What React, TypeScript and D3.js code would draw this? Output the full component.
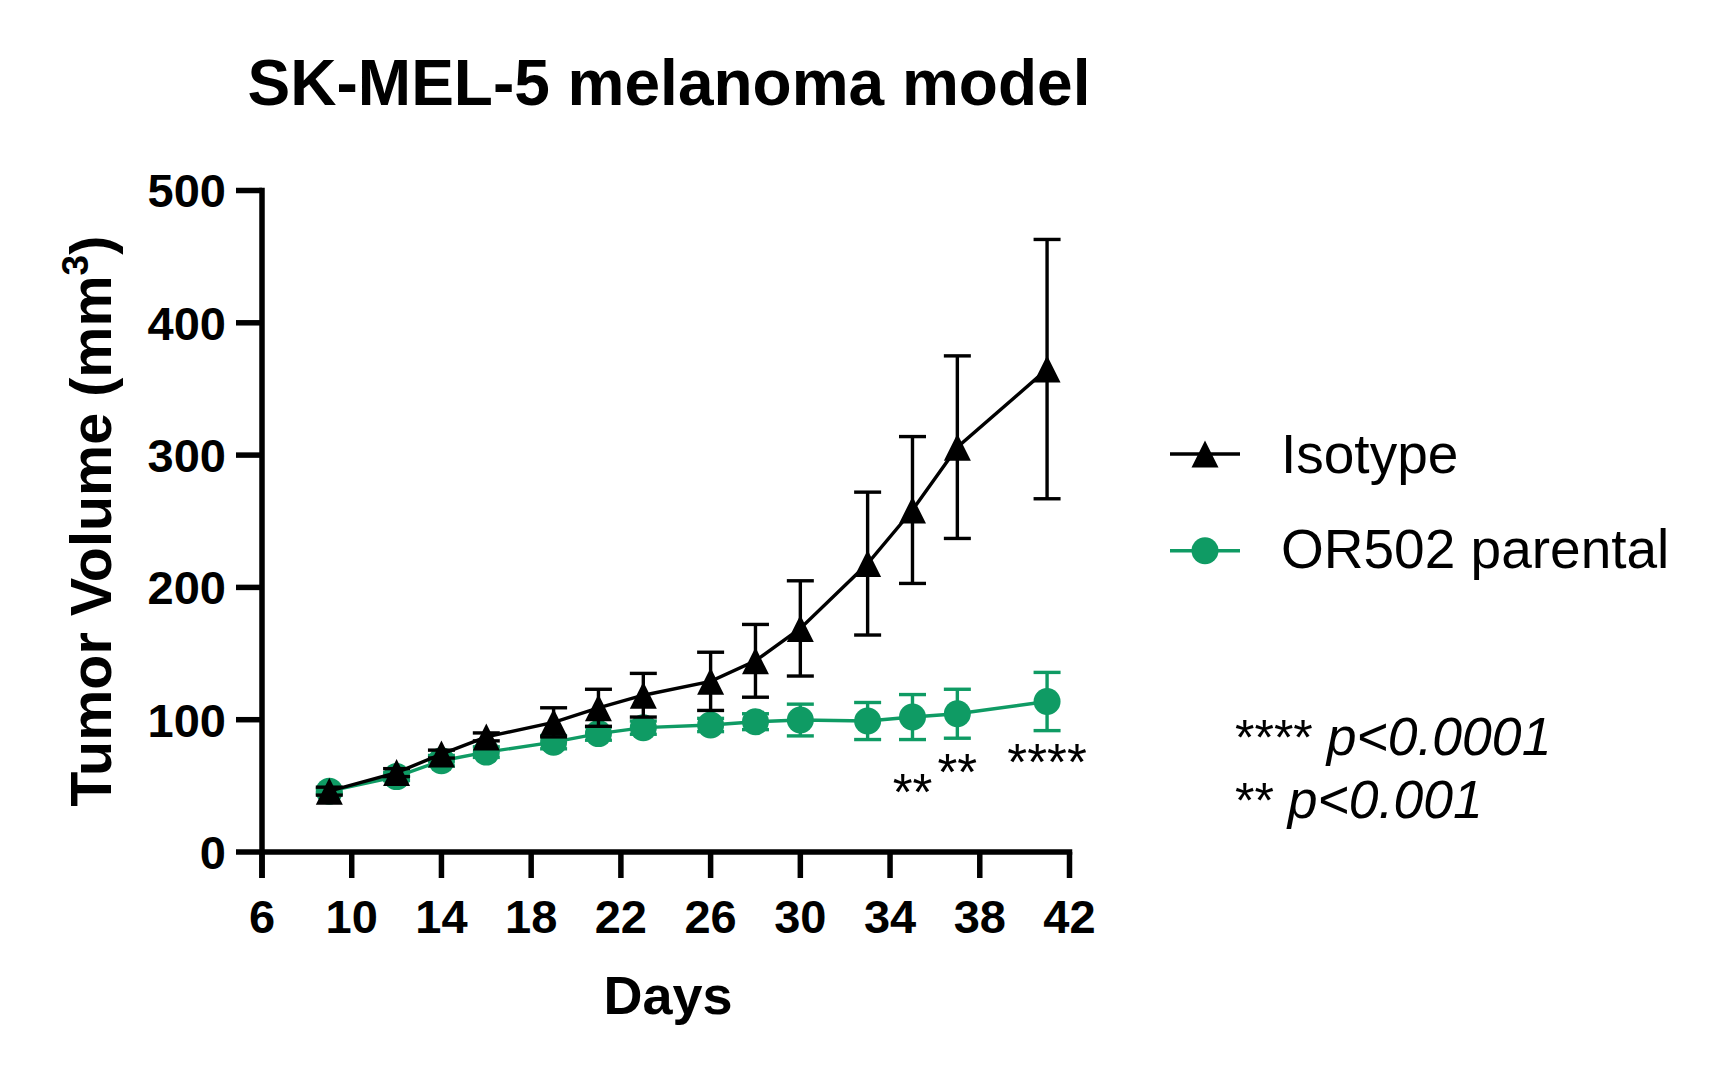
import * as d3 from 'd3';

// Days of measurement
const DAYS = [9, 12, 14, 16, 19, 21, 23, 26, 28, 30, 33, 35, 37, 41];

// Isotype group (mean, SEM)
const ISO_MEAN = [46, 60, 74, 87, 98, 109, 118.5, 129, 144.5, 169, 218, 258.5, 306, 365];
const ISO_SEM = [3, 3, 3, 3, 11, 14, 16.5, 22, 27.5, 36, 54, 55.5, 69, 98];

// OR502 parental group (mean, SEM)
const OR_MEAN = [46, 57, 69, 75.5, 83, 89.5, 94, 96, 98.5, 99.75, 99, 102, 104.5, 113.75];
const OR_SEM = [2, 3, 4, 4, 5, 5, 5, 5, 6, 12, 14, 17, 18.5, 22];

const X_TICKS = [6, 10, 14, 18, 22, 26, 30, 34, 38, 42];
const Y_TICKS = [0, 100, 200, 300, 400, 500];

// significance marks under points
const SIG_DAYS = [35, 37, 41];
const SIG_LABELS = ['**', '**', '****'];
const SIG_ROW = [0, 1, 2]; // vertical placement rows

const W = 1717;
const H = 1077;
const FONT = "'Liberation Sans', Arial, Helvetica, sans-serif";
const GREEN = '#0f9b64';
const BLACK = '#000000';

const xScale = d3.scaleLinear().domain([6, 42]).range([262, 1069.5]);
const yScale = d3.scaleLinear().domain([0, 500]).range([852, 190.5]);

const TICK = 26;
const AXIS_W = 5.5;
const LINE_W = 3.4;
const MS = 13.5; // marker half-size
const SIG_Y = [810, 790, 780];

const triPath = `M0,${-MS}L${MS},${MS}L${-MS},${MS}Z`;

type Pt = { day: number; mean: number; sem: number };
const isoData: Pt[] = DAYS.map((d, i) => ({ day: d, mean: ISO_MEAN[i], sem: ISO_SEM[i] }));
const orData: Pt[] = DAYS.map((d, i) => ({ day: d, mean: OR_MEAN[i], sem: OR_SEM[i] }));

const line = d3
  .line<Pt>()
  .x((d) => xScale(d.day))
  .y((d) => yScale(d.mean));

function ErrorBars({ data, color }: { data: Pt[]; color: string }) {
  return (
    <g stroke={color} strokeWidth={LINE_W} fill="none">
      {data.map((d) => {
        const x = xScale(d.day);
        const y1 = yScale(d.mean + d.sem);
        const y2 = yScale(d.mean - d.sem);
        return (
          <g key={d.day}>
            <line x1={x} x2={x} y1={y1} y2={y2} />
            <line x1={x - MS} x2={x + MS} y1={y1} y2={y1} />
            <line x1={x - MS} x2={x + MS} y1={y2} y2={y2} />
          </g>
        );
      })}
    </g>
  );
}

export default function App() {
  const y0 = yScale(0);
  const x0 = xScale(6);

  return (
    <svg
      width={W}
      height={H}
      viewBox={`0 0 ${W} ${H}`}
      style={{ position: 'absolute', left: 0, top: 0, background: '#fff' }}
      fontFamily={FONT}
    >
      <rect x={0} y={0} width={W} height={H} fill="#fff" />

      {/* Title */}
      <text x={669} y={105} textAnchor="middle" fontSize={64} fontWeight={700}>
        SK-MEL-5 melanoma model
      </text>

      {/* Y axis */}
      <line x1={x0} x2={x0} y1={yScale(500) - AXIS_W / 2} y2={y0 + TICK} stroke={BLACK} strokeWidth={AXIS_W} />
      {Y_TICKS.map((t) => (
        <g key={t}>
          <line x1={x0 - TICK} x2={x0} y1={yScale(t)} y2={yScale(t)} stroke={BLACK} strokeWidth={AXIS_W} />
          <text
            x={x0 - TICK - 10}
            y={yScale(t)}
            dy="0.36em"
            textAnchor="end"
            fontSize={47}
            fontWeight={700}
          >
            {t}
          </text>
        </g>
      ))}

      {/* X axis */}
      <line x1={x0} x2={xScale(42) + AXIS_W / 2} y1={y0} y2={y0} stroke={BLACK} strokeWidth={AXIS_W} />
      {X_TICKS.map((t) => (
        <g key={t}>
          <line x1={xScale(t)} x2={xScale(t)} y1={y0} y2={y0 + TICK} stroke={BLACK} strokeWidth={AXIS_W} />
          <text x={xScale(t)} y={933} textAnchor="middle" fontSize={47} fontWeight={700}>
            {t}
          </text>
        </g>
      ))}

      {/* Axis titles */}
      <text x={668} y={1014} textAnchor="middle" fontSize={54} fontWeight={700}>
        Days
      </text>
      <text
        transform={`translate(111,${(yScale(0) + yScale(500)) / 2}) rotate(-90)`}
        textAnchor="middle"
        fontSize={57.5}
        fontWeight={700}
      >
        Tumor Volume (mm
        <tspan fontSize={37} dy={-23}>3</tspan>
        <tspan dy={23}>)</tspan>
      </text>

      {/* OR502 parental */}
      <ErrorBars data={orData} color={GREEN} />
      <path d={line(orData) ?? ''} fill="none" stroke={GREEN} strokeWidth={LINE_W} />
      {orData.map((d) => (
        <circle key={d.day} cx={xScale(d.day)} cy={yScale(d.mean)} r={MS} fill={GREEN} />
      ))}

      {/* Isotype */}
      <ErrorBars data={isoData} color={BLACK} />
      <path d={line(isoData) ?? ''} fill="none" stroke={BLACK} strokeWidth={LINE_W} />
      {isoData.map((d) => (
        <path
          key={d.day}
          d={triPath}
          transform={`translate(${xScale(d.day)},${yScale(d.mean)})`}
          fill={BLACK}
        />
      ))}

      {/* Significance marks */}
      {SIG_DAYS.map((d, i) => (
        <text key={d} x={xScale(d)} y={SIG_Y[SIG_ROW[i]]} textAnchor="middle" fontSize={51}>
          {SIG_LABELS[i]}
        </text>
      ))}

      {/* Legend */}
      <g>
        <line x1={1170} x2={1240} y1={454} y2={454} stroke={BLACK} strokeWidth={LINE_W} />
        <path d={triPath} transform="translate(1205,454)" fill={BLACK} />
        <text x={1281} y={472.5} fontSize={55}>
          Isotype
        </text>
        <line x1={1170} x2={1240} y1={550.7} y2={550.7} stroke={GREEN} strokeWidth={LINE_W} />
        <circle cx={1205} cy={550.7} r={MS} fill={GREEN} />
        <text x={1281} y={568.3} fontSize={55}>
          OR502 parental
        </text>
      </g>

      {/* p-value notes */}
      <text x={1235} y={755} fontSize={50}>
        ****{' '}
        <tspan fontStyle="italic" fontSize={53.5}>p&lt;0.0001</tspan>
      </text>
      <text x={1235} y={818} fontSize={50}>
        **{' '}
        <tspan fontStyle="italic" fontSize={53.5}>p&lt;0.001</tspan>
      </text>
    </svg>
  );
}
